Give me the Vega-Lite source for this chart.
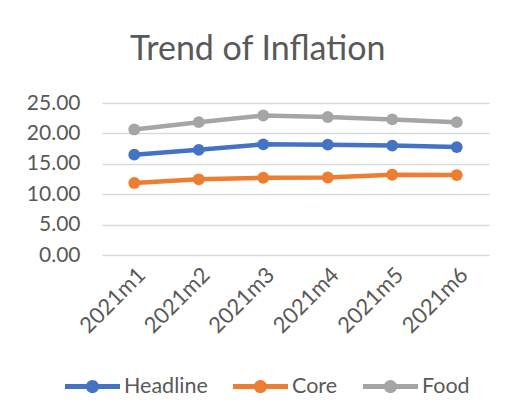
{
  "$schema": "https://vega.github.io/schema/vega-lite/v6.json",
  "width": 387,
  "height": 152,
  "autosize": {"type": "pad"},
  "padding": {"left": 26, "top": 33, "right": 20, "bottom": 5},
  "background": "white",
  "title": {"text": "Trend of Inflation", "fontSize": 34, "font": "Lato", "fontWeight": "normal", "color": "#595959", "frame": "bounds", "anchor": "middle", "offset": 25},
  "data": {"values": [
    {"month": "2021m1", "series": "Headline", "value": 16.5},
    {"month": "2021m2", "series": "Headline", "value": 17.3},
    {"month": "2021m3", "series": "Headline", "value": 18.2},
    {"month": "2021m4", "series": "Headline", "value": 18.15},
    {"month": "2021m5", "series": "Headline", "value": 18.0},
    {"month": "2021m6", "series": "Headline", "value": 17.75},
    {"month": "2021m1", "series": "Core", "value": 11.85},
    {"month": "2021m2", "series": "Core", "value": 12.45},
    {"month": "2021m3", "series": "Core", "value": 12.7},
    {"month": "2021m4", "series": "Core", "value": 12.75},
    {"month": "2021m5", "series": "Core", "value": 13.2},
    {"month": "2021m6", "series": "Core", "value": 13.15},
    {"month": "2021m1", "series": "Food", "value": 20.65},
    {"month": "2021m2", "series": "Food", "value": 21.85},
    {"month": "2021m3", "series": "Food", "value": 22.95},
    {"month": "2021m4", "series": "Food", "value": 22.7},
    {"month": "2021m5", "series": "Food", "value": 22.3},
    {"month": "2021m6", "series": "Food", "value": 21.85}
  ]},
  "encoding": {
    "x": {"field": "month", "type": "ordinal", "sort": null, "scale": {"type": "point", "padding": 0.5},
      "axis": {"title": null, "labelAngle": -45, "labelFontSize": 22, "labelFont": "Lato", "labelColor": "#595959", "ticks": false, "domain": false, "grid": false, "labelPadding": 9}},
    "y": {"field": "value", "type": "quantitative", "scale": {"domain": [0, 25], "nice": false},
      "axis": {"title": null, "values": [0, 5, 10, 15, 20, 25], "format": ".2f", "labelFontSize": 21, "labelFont": "Lato", "labelColor": "#595959", "ticks": false, "domain": false, "gridColor": "#D9D9D9", "gridWidth": 1.3, "labelPadding": 22}},
    "color": {"field": "series", "type": "nominal", "scale": {"domain": ["Headline", "Core", "Food"], "range": ["#4472C4", "#ED7D31", "#A5A5A5"]},
      "legend": {"title": null, "orient": "none", "legendX": -37, "legendY": 256, "direction": "horizontal", "symbolType": "M-1,-0.09L1,-0.09L1,0.09L-1,0.09Z M0.24,0A0.24,0.24,0,1,1,-0.24,0A0.24,0.24,0,1,1,0.24,0Z", "symbolSize": 3025, "symbolStrokeWidth": 0, "labelFontSize": 21.5, "labelFont": "Lato", "labelColor": "#595959", "columnPadding": 25, "labelOffset": 4,
        "encode": {"symbols": {"update": {"fill": {"scale": "color", "field": "value"}, "opacity": {"value": 1}}}}}}
  },
  "layer": [
    {"mark": {"type": "line", "strokeWidth": 4.5}},
    {"mark": {"type": "point", "filled": true, "size": 140, "opacity": 1}}
  ],
  "config": {"view": {"stroke": null}}
}
